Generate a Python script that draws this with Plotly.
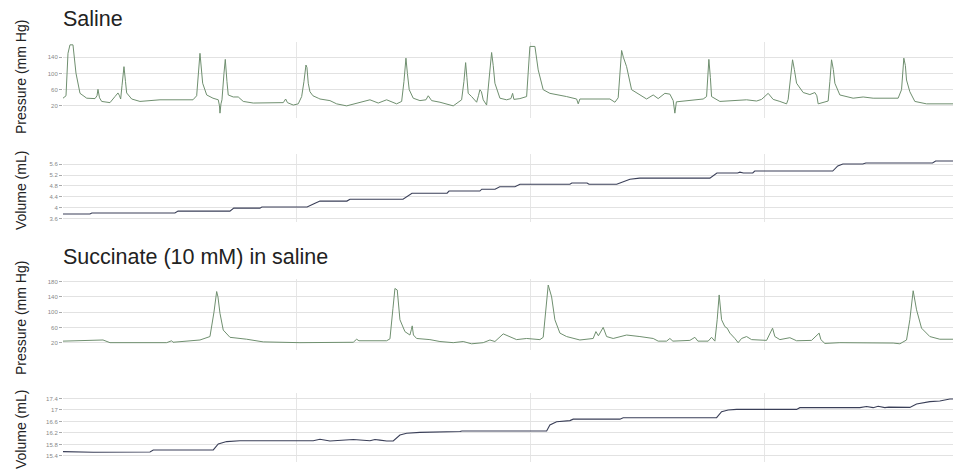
import plotly.graph_objects as go
from plotly.subplots import make_subplots

# the page body adds an 8 px offset, so the figure is laid out 8 px up/left
OFF = 8
W, H = 961 - OFF, 470 - OFF
ML = 63 - OFF

# ---------------- data ----------------
# Saline: bladder pressure (mm Hg) vs time (s)
sal_p_t = [0, 0.77, 1.28, 1.79, 2.56, 3.33, 4.36, 6.08, 8.21, 8.72, 8.97, 9.36, 9.92, 12.05, 13.33, 14.10,
           14.49, 14.79, 15.13, 15.64, 16.03, 16.33, 17.62, 19.74, 24.87, 33.33, 34.28, 34.74, 35.13, 35.82,
           36.85, 38.46, 39.82, 40.13, 40.26, 40.51, 40.77, 41.28, 41.62, 42.05, 42.38, 43.67, 44.95, 46.23,
           48.79, 56.49, 57.10, 57.56, 59.05, 60.33, 61.21, 61.79, 62.31, 62.56, 62.90, 63.33, 64.10, 65.46,
           65.90, 68.46, 70.18, 72.74, 75.31, 78.72, 80.85, 83.00, 85.56, 86.85, 87.44, 87.95, 88.33, 88.79,
           89.82, 91.54, 93.08, 93.67, 94.54, 96.67, 100.08, 102.23, 102.82, 103.26, 103.59, 103.92, 104.79,
           106.08, 106.54, 106.92, 107.31, 107.77, 108.64, 109.23, 109.92, 110.33, 110.77, 112.05, 113.77,
           114.87, 115.31, 115.64, 117.18, 118.90, 119.36, 119.74, 121.03, 121.87, 123.15, 124.87, 129.15,
           131.72, 132.13, 132.56, 140.26, 141.54, 142.38, 142.82, 143.26, 143.72, 144.54, 145.82, 147.95,
           149.67, 151.36, 152.64, 154.36, 155.64, 156.49, 156.92, 157.31, 159.92, 164.18, 165.05, 165.38,
           165.64, 166.03, 166.33, 168.46, 173.59, 175.31, 177.87, 179.15, 180.85, 182.13, 183.85, 185.56,
           185.97, 186.54, 187.10, 187.56, 188.13, 189.82, 191.54, 192.82, 193.33, 193.67, 196.23, 196.67,
           197.10, 197.56, 197.95, 199.23, 202.64, 205.21, 207.77, 214.18, 215.05, 215.64, 216.03, 216.33,
           217.18, 218.46, 221.46, 230.26]
sal_p_v = [39, 45, 150, 171, 171, 101, 51, 39, 38, 45, 61, 40, 31, 28, 43, 52,
           45, 37, 70, 117, 80, 52, 37, 31, 35, 35, 45, 110, 150, 76,
           47, 39, 35, 20, 2, 25, 35, 100, 135, 80, 47, 42, 42, 31,
           27, 28, 37, 28, 22, 25, 43, 80, 121, 115, 76, 55, 45, 39,
           37, 33, 25, 20, 27, 35, 27, 35, 25, 31, 80, 138, 100, 60,
           39, 33, 35, 45, 33, 29, 20, 35, 80, 127, 90, 51, 43,
           29, 45, 60, 55, 35, 22, 80, 152, 120, 76, 39, 35,
           38, 51, 36, 38, 43, 110, 167, 167, 109, 60, 51, 43,
           37, 25, 37, 37, 29, 40, 110, 157, 140, 117, 60, 47,
           37, 47, 38, 51, 49, 33, 2, 30, 33, 37, 43, 100,
           135, 90, 43, 31, 33, 35, 32, 36, 51, 36, 31, 25,
           36, 90, 134, 110, 76, 53, 48, 53, 45, 25, 32, 80,
           134, 110, 76, 47, 39, 42, 39, 39, 60, 138, 120, 84,
           55, 31, 25, 25]

# Saline: infused volume (mL)
sal_v_t = [0, 6.9, 7.4, 22.3, 23.0, 23.8, 28.7, 29.5, 42.8, 43.8, 50.5, 51.0, 62.6, 64.5, 65.9, 72.8, 73.6,
           87.2, 88.5, 89.5, 98.5, 99.0, 106.9, 107.4, 110.8, 112.0, 115.9, 117.2, 130.0, 130.5, 134.4, 134.9,
           142.0, 145.4, 147.9, 165.9, 167.7, 173.0, 173.6, 174.5, 176.9, 177.4, 197.4, 198.7, 200.0, 205.1,
           205.9, 223.0, 223.8, 230.3]
sal_v_v = [3.76, 3.76, 3.80, 3.80, 3.82, 3.80, 3.80, 3.87, 3.87, 3.98, 3.98, 4.02, 4.02, 4.15, 4.24, 4.24, 4.31,
           4.31, 4.45, 4.53, 4.53, 4.61, 4.61, 4.68, 4.68, 4.77, 4.77, 4.86, 4.86, 4.91, 4.91, 4.86,
           4.86, 5.05, 5.09, 5.09, 5.28, 5.28, 5.31, 5.28, 5.28, 5.35, 5.35, 5.54, 5.61, 5.61,
           5.65, 5.65, 5.72, 5.72]

# Succinate (10 mM) in saline: pressure (mm Hg)
suc_p_t = [0, 9.49, 10.26, 12.05, 26.59, 27.87, 28.21, 35.13, 37.69, 38.72, 39.41, 39.74, 40.26, 41.10, 42.82,
           47.10, 51.36, 60.77, 74.44, 75.31, 75.90, 83.00, 83.85, 84.62, 85.13, 85.72, 86.41, 87.69, 88.97,
           89.36, 89.56, 89.87, 90.69, 94.10, 96.67, 100.08, 102.64, 104.79, 107.77, 109.49, 110.77, 112.90,
           114.62, 116.33, 118.90, 122.31, 123.15, 123.97, 124.44, 125.31, 126.15, 127.44, 129.15, 132.56,
           135.97, 136.67, 137.31, 138.54, 139.41, 141.10, 144.54, 147.95, 151.36, 152.64, 154.79, 155.64,
           156.41, 160.77, 162.05, 162.82, 165.46, 166.33, 167.18, 167.77, 168.28, 168.90, 169.74, 170.33,
           171.03, 172.31, 173.15, 174.03, 175.31, 176.59, 180.44, 181.97, 182.56, 183.85, 186.41, 188.13,
           190.69, 191.97, 193.92, 194.36, 195.38, 199.23, 212.90, 214.62, 216.33, 217.18, 218.03, 218.90,
           220.18, 222.31, 224.87, 230.26]
suc_p_v = [24, 25, 27, 20, 20, 25, 21, 27, 36, 100, 154, 140, 97, 53, 34,
           29, 22, 20, 21, 29, 25, 25, 30, 110, 162, 158, 80, 49, 40,
           55, 64, 40, 31, 28, 23, 20, 23, 17, 20, 27, 23, 43,
           36, 28, 31, 28, 34, 120, 171, 140, 80, 45, 36, 27,
           31, 49, 38, 60, 36, 31, 40, 36, 31, 24, 24, 31,
           24, 26, 34, 24, 24, 34, 24, 80, 145, 80, 62, 58,
           45, 31, 20, 31, 36, 28, 26, 58, 36, 28, 33, 25,
           26, 26, 45, 28, 18, 20, 19, 17, 27, 80, 156, 106,
           58, 36, 29, 29]

# Succinate (10 mM) in saline: volume (mL)
suc_v_t = [0, 7.77, 22.31, 23.15, 38.54, 39.82, 41.97, 45.38, 64.18, 65.90, 68.46, 72.74, 74.44, 78.72, 80.0,
           81.28, 83.00, 84.69, 86.41, 88.13, 91.54, 101.80, 102.31, 124.03, 124.87, 126.59, 130.0, 130.85,
           142.82, 143.67, 167.62, 168.90, 170.59, 172.74, 188.13, 188.97, 204.36, 206.08, 207.77, 209.05,
           210.77, 211.79, 217.18, 218.90, 222.31, 224.87, 227.44, 230.26]
suc_v_v = [15.55, 15.53, 15.54, 15.61, 15.61, 15.82, 15.90, 15.93, 15.93, 15.98, 15.92, 15.95, 15.97, 15.93, 15.97,
           15.95, 15.92, 15.92, 16.13, 16.19, 16.22, 16.25, 16.27, 16.27, 16.48, 16.59, 16.63, 16.68,
           16.68, 16.73, 16.73, 16.94, 17.00, 17.02, 17.02, 17.08, 17.08, 17.12, 17.08, 17.13,
           17.08, 17.10, 17.09, 17.21, 17.29, 17.31, 17.38, 17.38]

pres1_ticks = [20, 60, 100, 140]
vol1_ticks = [3.6, 4.0, 4.4, 4.8, 5.2, 5.6]
vol1_text = ["3.6", "4", "4.4", "4.8", "5.2", "5.6"]
pres2_ticks = [20, 60, 100, 140, 180]
vol2_ticks = [15.4, 15.8, 16.2, 16.6, 17.0, 17.4]
vol2_text = ["15.4", "15.8", "16.2", "16.6", "17", "17.4"]

panel_titles = ["Saline", "Succinate (10 mM) in saline"]
pressure_label = "Pressure (mm Hg)"
volume_label = "Volume (mL)"

# ---------------- figure ----------------
fig = make_subplots(rows=4, cols=1)

PCOL = "#6f8f6f"
VCOL = "#3a3f58"
fig.add_trace(go.Scatter(x=sal_p_t, y=sal_p_v, mode="lines", line=dict(color=PCOL, width=1)), row=1, col=1)
fig.add_trace(go.Scatter(x=sal_v_t, y=sal_v_v, mode="lines", line=dict(color=VCOL, width=1.1)), row=2, col=1)
fig.add_trace(go.Scatter(x=suc_p_t, y=suc_p_v, mode="lines", line=dict(color=PCOL, width=1)), row=3, col=1)
fig.add_trace(go.Scatter(x=suc_v_t, y=suc_v_v, mode="lines", line=dict(color=VCOL, width=1.1)), row=4, col=1)

def pdom(top, bot):
    # reference pixel rows -> paper fractions
    return [1 - (bot - OFF) / H, 1 - (top - OFF) / H]

domains = [pdom(42, 118), pdom(154, 222), pdom(279.3, 350.3), pdom(393, 462)]
ranges = [[-10, 178], [3.467, 5.98], [0, 186], [15.19, 17.59]]
tvals = [pres1_ticks, vol1_ticks, pres2_ticks, vol2_ticks]
ttext = [[str(v) for v in pres1_ticks], vol1_text, [str(v) for v in pres2_ticks], vol2_text]

for i in range(4):
    n = "" if i == 0 else str(i + 1)
    fig.layout["yaxis" + n].update(
        domain=domains[i], range=ranges[i], tickvals=tvals[i], ticktext=ttext[i],
        showgrid=True, gridcolor="#e2e2e2", gridwidth=1, zeroline=False, showline=False,
        ticks="outside", ticklen=3, tickcolor="#aaaaaa", tickwidth=1,
        tickfont=dict(size=6, color="#888888", family="Liberation Sans, Arial"))
    fig.layout["xaxis" + n].update(
        range=[0, 230.3], dtick=60, tick0=0, showticklabels=False, showgrid=True,
        gridcolor="#e6e6e6", gridwidth=1, zeroline=False, showline=False, ticks="")

ann = []
def px_x(x):
    return (x - OFF - ML) / (W - ML)

def px_y(y):
    return 1 - (y - OFF) / H

for txt, yc in [(panel_titles[0], 19.5), (panel_titles[1], 257)]:
    ann.append(dict(text=txt, x=px_x(62), y=px_y(yc), xref="paper", yref="paper",
                    xanchor="left", yanchor="middle", showarrow=False, borderpad=0,
                    font=dict(size=21.5, color="#222222", family="Liberation Sans, Arial")))
for txt, yc in [(pressure_label, 77), (volume_label, 191), (pressure_label, 318), (volume_label, 430)]:
    ann.append(dict(text=txt, x=px_x(21), y=px_y(yc), xref="paper", yref="paper",
                    xanchor="center", yanchor="middle", textangle=-90, showarrow=False,
                    font=dict(size=14, color="#222222", family="Liberation Sans, Arial")))

fig.update_layout(
    width=W, height=H, margin=dict(l=ML, r=0, t=0, b=0),
    paper_bgcolor="white", plot_bgcolor="white", showlegend=False,
    annotations=ann,
)

fig.write_html("out.html")
